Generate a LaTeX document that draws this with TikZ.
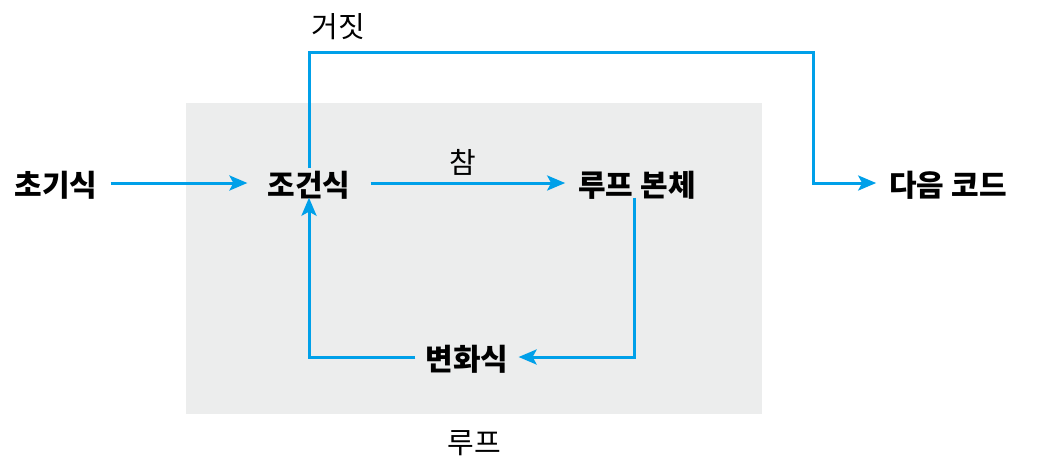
\documentclass[tikz,border=0pt]{standalone}
\usepackage{fontspec}
\setmainfont{Noto Sans CJK KR}
\usetikzlibrary{arrows.meta}
\definecolor{flowblue}{RGB}{0,160,233}
\definecolor{loopgray}{RGB}{236,237,237}
\begin{document}
\begin{tikzpicture}[x=1pt,y=-1pt,
    sunk_text/.style={text height=0.82em,text depth=0.08em,
        execute at begin node={\lower0.34em\hbox\bgroup},execute at end node={\egroup}},
    step_node/.style={sunk_text,font=\fontsize{30}{32}\selectfont\bfseries,inner xsep=13pt,inner ysep=10pt},
    label_node/.style={sunk_text,font=\fontsize{29}{32}\selectfont},
    flow_line/.style={draw=flowblue,line width=3pt,-{Stealth[length=18pt,width=15pt,inset=4pt]}}]
    \useasboundingbox (0,0) rectangle (1057,472);
    \fill[loopgray] (186,103) rectangle (762,414);
    \node[step_node] (init) at (56,183) {초기식};
    \node[step_node,inner xsep=20pt] (cond) at (309,183) {조건식};
    \node[step_node] (body) at (637,183) {루프 본체};
    \node[step_node,inner xsep=10pt] (update) at (467,357) {변화식};
    \node[step_node] (next) at (948,183) {다음 코드};
    \node[label_node] (true) at (463,160) {참};
    \node[label_node] (false) at (338,24) {거짓};
    \node[label_node] (loop) at (474,440) {루프};
    \coordinate (turn) at (813,52);
    \draw[flow_line] (init) -- (cond);
    \draw[flow_line] (cond) -- (body);
    \draw[flow_line] ([xshift=-3pt]body.south) |- (update);
    \draw[flow_line] (update) -| (cond);
    \draw[flow_line] (cond) |- (turn) |- (next);
\end{tikzpicture}
\end{document}
